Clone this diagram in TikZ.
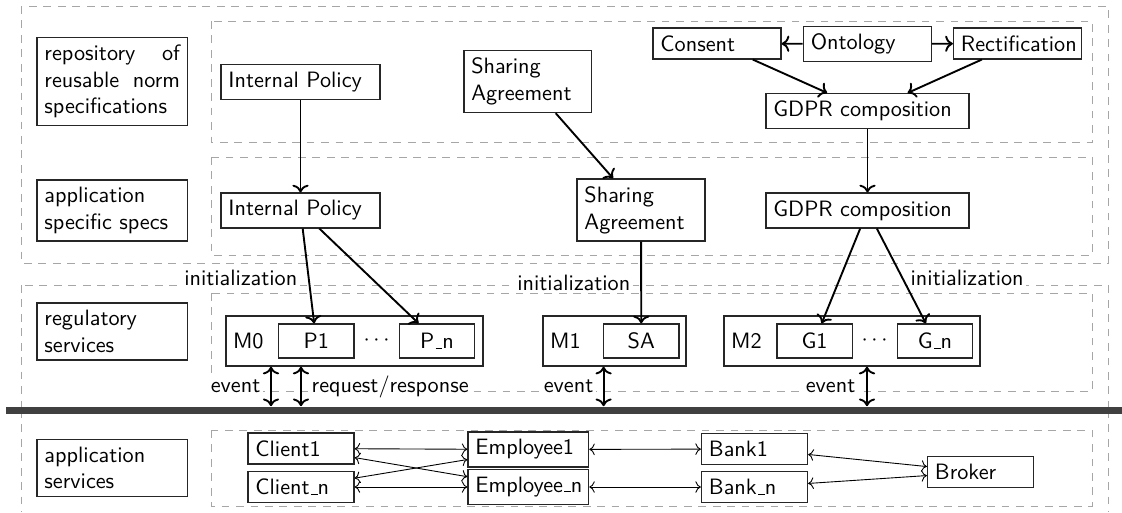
\documentclass[tikz,border=0pt]{standalone}
\usepackage{fontspec}
\usetikzlibrary{arrows.meta}
\hyphenpenalty=10000
\exhyphenpenalty=10000
% short low rule used in the indexed names (P_n, G_n, ...)
\newcommand\uscore{\leavevmode\kern.06em\vbox{\hrule width.3em height .45pt}}
\begin{document}
\begin{tikzpicture}[x=0.45pt,y=-0.45pt,
  font=\sffamily\fontsize{10}{12}\selectfont,
  zone/.style={draw=black!35, dash pattern=on 3.5pt off 3pt, line width=0.4pt},
  box/.style={draw=black!85, line width=0.6pt, inner sep=3.33pt},
  tag/.style={box, text width=61pt, align=justify},
  spec/.style={box, text width=50.9pt, align=left},
  cell/.style={box, minimum width=33.9pt, minimum height=15.3pt},
  monitor/.style={box, minimum height=22.5pt},
  svc/.style={box, text width=41pt, align=left},
  flow/.style={->, line width=0.85pt},
  link/.style={<->, line width=0.4pt},
  evt/.style={<->, line width=0.85pt},
  note/.style={fill=white, inner sep=1pt}
]
\useasboundingbox (0,0) rectangle (1122,512);

% layer frames
\draw[zone] (21,6) rectangle (1108,263);
\draw[zone] (211,21) rectangle (1092,142);
\draw[zone] (211,157) rectangle (1092,255);
\draw[zone] (21,285) rectangle (1108,410);
\draw[zone] (211,293) rectangle (1092,391.5);
\draw[zone] (21,410) -- (21,512);
\draw[zone] (1108,410) -- (1108,512);
\draw[zone] (211,430) rectangle (1092,506);

% layer titles
\node[tag] (t1) at (112.25,81.5) {repository of reusable norm specifications};
\node[tag] (t2) at (112.25,210.5) {application specific specs};
\node[tag] (t3) at (112.25,331.5) {regulatory services};
\node[tag] (t4) at (112.25,468) {application services};

% repository of reusable norm specifications
\node[box, text width=64.9pt, align=left] (ip1) at (300.5,82) {Internal Policy};
\node[spec] (sa1) at (527.8,81.5) {Sharing Agreement};
\node[spec] (consent) at (717,43.5) {Consent};
\node[spec] (onto) at (867.3,44) {Ontology};
\node[spec] (rectif) at (1017.5,43.5) {Rectification};
\node[box, text width=84.7pt, align=left] (gdpr1) at (867.5,111) {GDPR composition};

% application specific specs
\node[box, text width=64.9pt, align=left] (ip2) at (300.5,210.5) {Internal Policy};
\node[spec] (sa2) at (641,210) {Sharing Agreement};
\node[box, text width=84.7pt, align=left] (gdpr2) at (867.5,210.5) {GDPR composition};

% regulatory services
\node[monitor, minimum width=115.7pt] (m0) at (354.4,341) {};
\node[anchor=west] (m0t) at (m0.west) {M0};
\node[cell] (p1) at (316.3,341) {P1};
\node (pdots) at (376.5,341) {$\cdots$};
\node[cell] (pn) at (437,341) {P\uscore n};

\node[monitor, minimum width=64.4pt] (m1) at (614.5,341) {};
\node[anchor=west] (m1t) at (m1.west) {M1};
\node[cell] (sa) at (641.3,341) {SA};

\node[monitor, minimum width=115.2pt] (m2) at (852,341) {};
\node[anchor=west] (m2t) at (m2.west) {M2};
\node[cell] (g1) at (814.5,341) {G1};
\node (gdots) at (874.5,341) {$\cdots$};
\node[cell] (gn) at (935,341) {G\uscore n};

% message bus
\node[fill=black!75, inner sep=0pt, minimum width=502.2pt, minimum height=3.3pt] (bus) at (564,410.3) {};

% application services
\node[svc] (c1) at (301,448.5) {Client1};
\node[svc] (cn) at (301,487) {Client\uscore n};
\node[box, text width=47.6pt, align=left] (e1) at (528.3,449.5) {Employee1};
\node[box, text width=47.6pt, align=left] (en) at (528.3,487) {Employee\uscore n};
\node[svc] (b1) at (754.5,449) {Bank1};
\node[svc] (bn) at (754.5,487) {Bank\uscore n};
\node[svc] (broker) at (980.5,472) {Broker};

% specification flow
\draw[flow] (ip1) -- (ip2);
\draw[flow] (sa1) -- (sa2);
\draw[flow] (onto) -- (consent);
\draw[flow] (onto) -- (rectif);
\draw[flow] (consent) -- (gdpr1);
\draw[flow] (rectif) -- (gdpr1);
\draw[flow] (gdpr1) -- (gdpr2);

% initialization of monitors
\draw[flow] (ip2) -- (p1);
\draw[flow] (ip2) -- (pn);
\draw[flow] (sa2) -- (sa);
\draw[flow] (gdpr2) -- (g1);
\draw[flow] (gdpr2) -- (gn);
\node[note, anchor=base east] (init0) at (300,285) {initialization};
\node[note, anchor=base east] (init1) at (633,290) {initialization};
\node[note, anchor=base west] (init2) at (908,285) {initialization};

% monitor / bus interaction
\coordinate (x0) at (271,0);
\coordinate (x1) at (301,0);
\coordinate (x2) at (603.6,0);
\coordinate (x3) at (867,0);
\draw[evt] (m0.south -| x0) -- (bus.north -| x0);
\draw[evt] (m0.south -| x1) -- (bus.north -| x1);
\draw[evt] (m1.south -| x2) -- (bus.north -| x2);
\draw[evt] (m2.south -| x3) -- (bus.north -| x3);
\node[note, anchor=base east] (ev0) at (263,392) {event};
\node[note, anchor=base west] (rr0) at (309,392) {request/response};
\node[note, anchor=base east] (ev1) at (596,392) {event};
\node[note, anchor=base east] (ev2) at (858,392) {event};

% service interactions
\draw[link] (c1) -- (e1);
\draw[link] (cn) -- (en);
\draw[link] (c1) -- (en);
\draw[link] (cn) -- (e1);
\draw[link] (e1) -- (b1);
\draw[link] (en) -- (bn);
\draw[link] (b1) -- (broker);
\draw[link] (bn) -- (broker);
\end{tikzpicture}
\end{document}
